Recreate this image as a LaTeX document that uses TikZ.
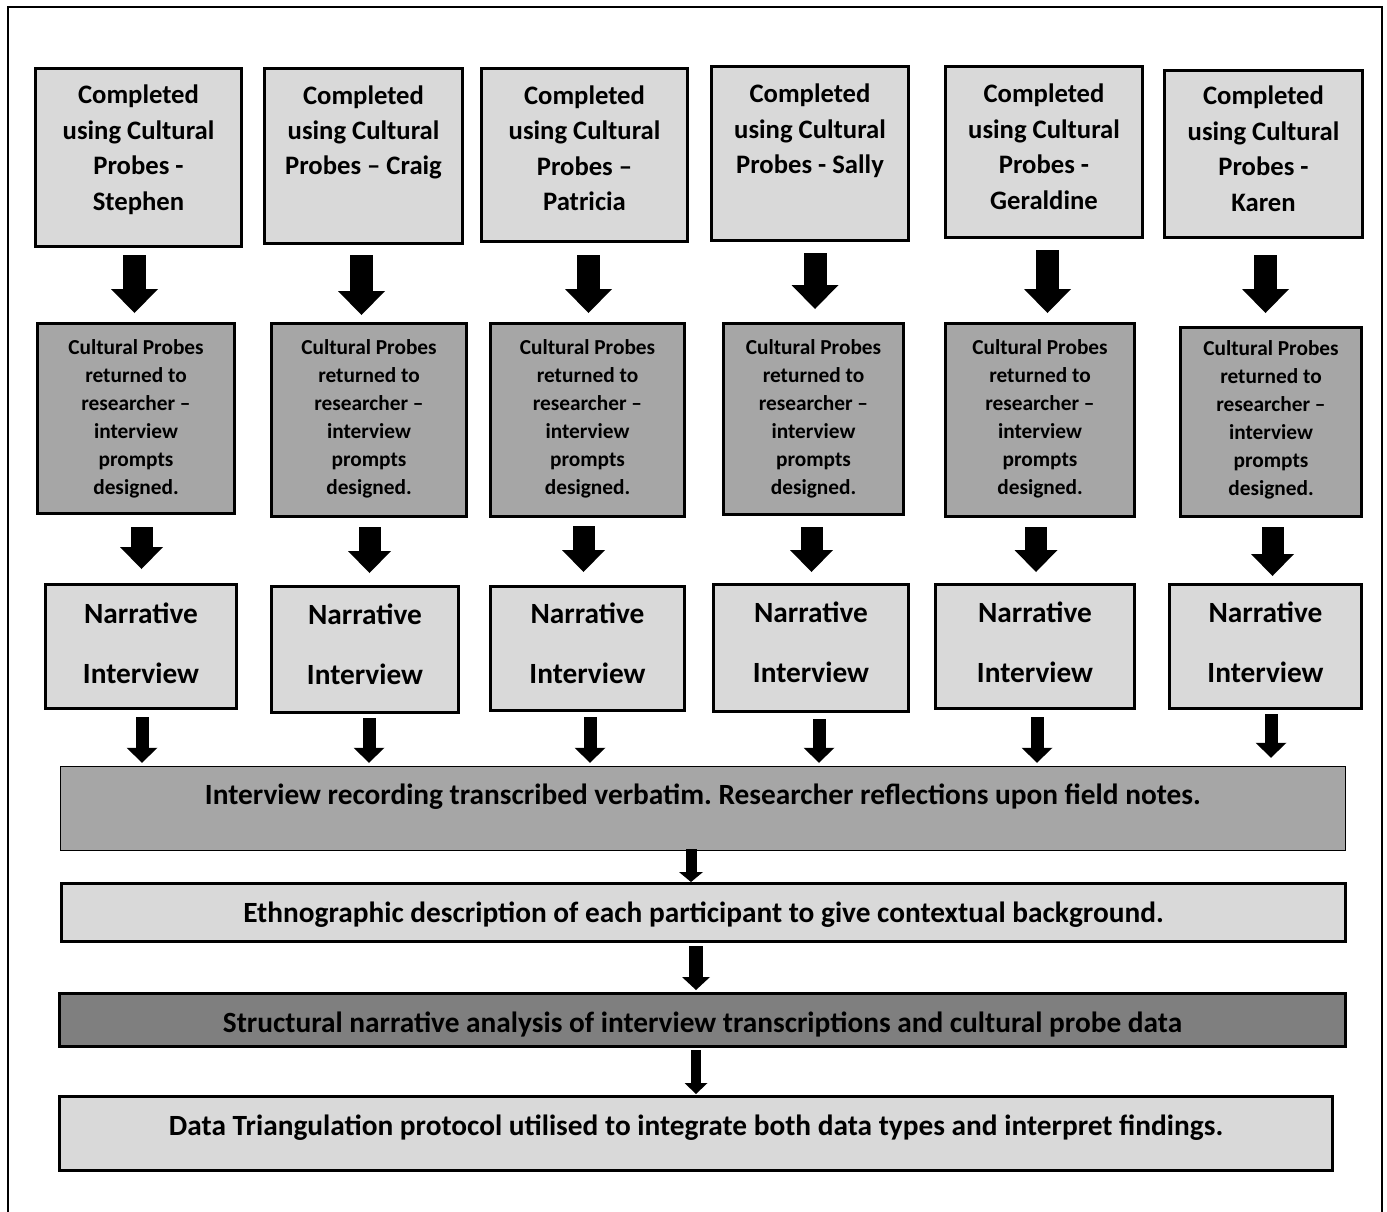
\documentclass[tikz,border=0pt]{standalone}
\usepackage{fontspec}
\setmainfont{Carlito}
\usetikzlibrary{arrows.meta}

\definecolor{boxlight}{HTML}{D9D9D9}
\definecolor{boxmid}{HTML}{A6A6A6}
\definecolor{boxdark}{HTML}{7F7F7F}

% fonts for the different box rows
\newcommand\fontProbe{\bfseries\fontsize{26.67}{35.5}\selectfont}
\newcommand\fontReturn{\bfseries\fontsize{21.33}{28}\selectfont}
\newcommand\fontNarr{\bfseries\fontsize{29.33}{60}\selectfont}
\newcommand\fontWide{\bfseries\fontsize{29.33}{34}\selectfont}

% \flowbox{name}{style}{font}{x1}{y1}{x2}{y2}{first baseline below top}{text}
% x1..y2 are the outer edges of the framed box
\newcommand\flowbox[9]{%
  \node[flowcell,#2] (#1) at ({(#4+#6)/2},{(#5+#7)/2})
    {\parbox[c][\dimexpr#7pt-#5pt-3pt\relax][t]{\dimexpr#6pt-#4pt-3pt\relax}{%
      #3\frenchspacing\centering\vskip\dimexpr#8pt-1.5pt-\baselineskip\relax
      \hrule height0pt\prevdepth=0pt #9\par}};}

\tikzset{
  flowcell/.style={draw=black, line width=3pt, inner sep=0pt},
  light/.style={fill=boxlight},
  mid/.style={fill=boxmid},
  dark/.style={fill=boxdark},
  arrowA/.style={line width=23pt, -{Triangle[width=47pt,length=24pt,line width=0pt]}},
  arrowB/.style={line width=22pt, -{Triangle[width=43pt,length=22pt,line width=0pt]}},
  arrowC/.style={line width=13pt, -{Triangle[width=31pt,length=15pt,line width=0pt]}},
  arrowD/.style={line width=11pt, -{Triangle[width=24pt,length=10pt,line width=0pt]}},
  arrowE/.style={line width=14pt, -{Triangle[width=28pt,length=13pt,line width=0pt]}},
  arrowF/.style={line width=10pt, -{Triangle[width=23pt,length=11pt,line width=0pt]}},
}

\begin{document}
\begin{tikzpicture}[x=1pt, y=-1pt]
\useasboundingbox (0,0) rectangle (1387,1212);

% page frame, open at the bottom
\draw[line width=2pt] (7.5,1212) -- (7.5,7) -- (1382,7) -- (1382,1212);

% row 1: probe completion per participant
\flowbox{ste1}{light}{\fontProbe}{34}{67}{243}{248}{37}{Completed\\using Cultural\\Probes -\\Stephen}
\flowbox{cra1}{light}{\fontProbe}{263}{67}{464}{245}{37}{Completed\\using Cultural\\Probes – Craig}
\flowbox{pat1}{light}{\fontProbe}{480}{67}{689}{243}{37}{Completed\\using Cultural\\Probes –\\Patricia}
\flowbox{sal1}{light}{\fontProbe}{710}{65}{910}{242}{38}{Completed\\using Cultural\\Probes - Sally}
\flowbox{ger1}{light}{\fontProbe}{944}{65}{1144}{239}{38}{Completed\\using Cultural\\Probes -\\Geraldine}
\flowbox{kar1}{light}{\fontProbe}{1163}{69}{1364}{239}{36}{Completed\\using Cultural\\Probes -\\Karen}

% row 2: probes returned
\flowbox{ste2}{mid}{\fontReturn}{36}{322}{236}{515}{32}{Cultural Probes\\returned to\\researcher –\\interview\\prompts\\designed.}
\flowbox{cra2}{mid}{\fontReturn}{270}{322}{468}{518}{32}{Cultural Probes\\returned to\\researcher –\\interview\\prompts\\designed.}
\flowbox{pat2}{mid}{\fontReturn}{489}{322}{686}{518}{32}{Cultural Probes\\returned to\\researcher –\\interview\\prompts\\designed.}
\flowbox{sal2}{mid}{\fontReturn}{722}{322}{905}{516}{32}{Cultural Probes\\returned to\\researcher –\\interview\\prompts\\designed.}
\flowbox{ger2}{mid}{\fontReturn}{944}{322}{1136}{518}{32}{Cultural Probes\\returned to\\researcher –\\interview\\prompts\\designed.}
\flowbox{kar2}{mid}{\fontReturn}{1179}{326}{1363}{518}{29}{Cultural Probes\\returned to\\researcher –\\interview\\prompts\\designed.}

% row 3: narrative interviews
\flowbox{ste3}{light}{\fontNarr}{44}{583}{238}{710}{40}{Narrative\\Interview}
\flowbox{cra3}{light}{\fontNarr}{270}{585}{460}{714}{39}{Narrative\\Interview}
\flowbox{pat3}{light}{\fontNarr}{489}{585}{686}{712}{38}{Narrative\\Interview}
\flowbox{sal3}{light}{\fontNarr}{712}{583}{910}{713}{39}{Narrative\\Interview}
\flowbox{ger3}{light}{\fontNarr}{934}{583}{1136}{710}{39}{Narrative\\Interview}
\flowbox{kar3}{light}{\fontNarr}{1168}{583}{1363}{710}{39}{Narrative\\Interview}

% analysis stages
\flowbox{rec}{mid,line width=1.5pt}{\fontWide}{59}{765}{1347}{852}{39}{Interview recording transcribed verbatim. Researcher reflections upon field notes.}
\flowbox{eth}{light}{\fontWide}{60}{882}{1347}{943}{40}{Ethnographic description of each participant to give contextual background.}
\flowbox{str}{dark}{\fontWide}{58}{992}{1347}{1048}{40}{Structural narrative analysis of interview transcriptions and cultural probe data}
\flowbox{tri}{light}{\fontWide}{58}{1095}{1334}{1172}{40}{Data Triangulation protocol utilised to integrate both data types and interpret findings.}

% block arrows between the rows
\foreach \u/\v/\x/\sa/\sb in {ste1/ste2/134.5/7pt/9pt, cra1/cra2/361.5/10pt/7pt,
    pat1/pat2/588.5/12pt/9pt, sal1/sal2/815/11pt/13pt, ger1/ger2/1047.5/11pt/9pt,
    kar1/kar2/1265.5/16pt/13pt}
  \draw[arrowA, shorten <=\sa, shorten >=\sb] (\u.south -| \x,0) -- (\v.north -| \x,0);

\foreach \u/\v/\x/\sa/\sb in {ste2/ste3/141.5/12pt/14pt, cra2/cra3/369.5/9pt/12pt,
    pat2/pat3/583.5/8pt/13pt, sal2/sal3/811.5/11pt/11pt, ger2/ger3/1036/9pt/11pt,
    kar2/kar3/1272.5/9pt/7pt}
  \draw[arrowB, shorten <=\sa, shorten >=\sb] (\u.south -| \x,0) -- (\v.north -| \x,0);

\foreach \u/\x/\sa/\sb in {ste3/142/7pt/3pt, cra3/369/4pt/3pt, pat3/590/5pt/3pt,
    sal3/819/6pt/3pt, ger3/1037/7pt/3pt, kar3/1271/4pt/8pt}
  \draw[arrowC, shorten <=\sa, shorten >=\sb] (\u.south -| \x,0) -- (rec.north -| \x,0);

\draw[arrowD, shorten <=-2pt, shorten >=0pt] (rec.south -| 691,0) -- (eth.north -| 691,0);
\draw[arrowE, shorten <=3pt, shorten >=2pt] (eth.south -| 696,0) -- (str.north -| 696,0);
\draw[arrowF, shorten <=2pt, shorten >=1pt] (str.south -| 696,0) -- (tri.north -| 696,0);
\end{tikzpicture}
\end{document}
